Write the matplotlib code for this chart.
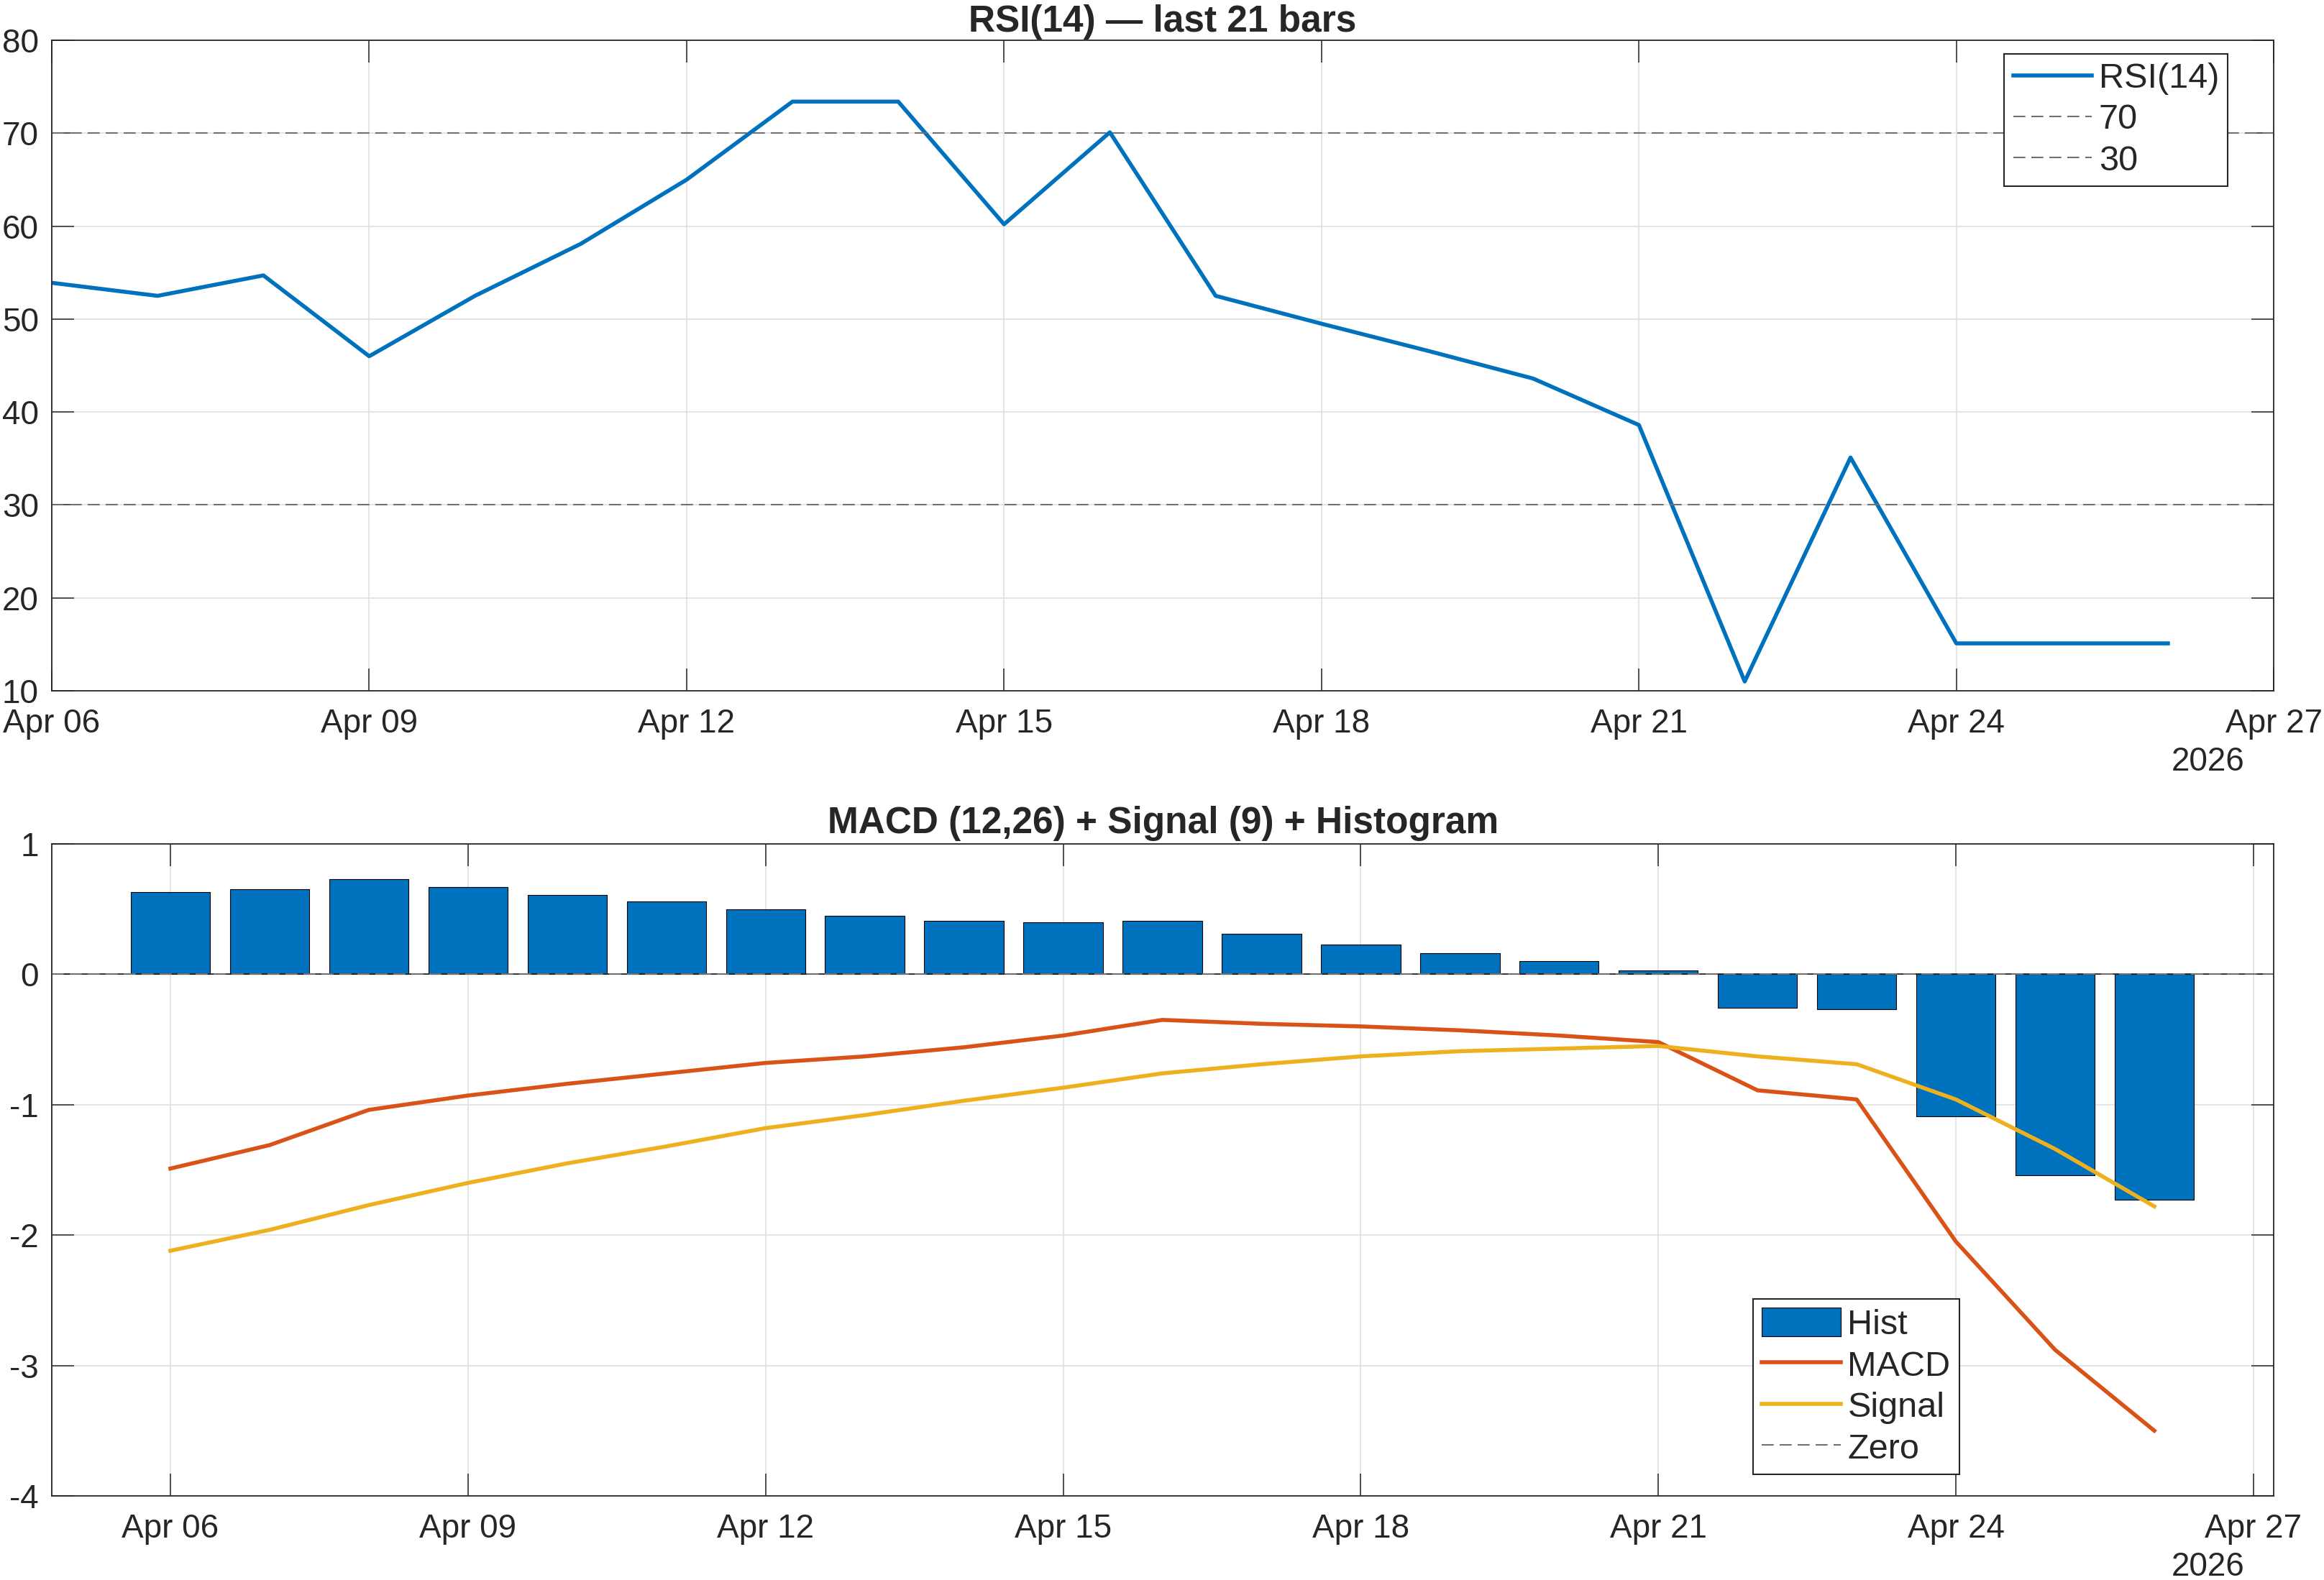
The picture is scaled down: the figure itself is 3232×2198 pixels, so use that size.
import numpy as np
import pandas as pd
import matplotlib
matplotlib.use("Agg")
import matplotlib.pyplot as plt
import matplotlib.dates as mdates

plt.rcParams['font.family'] = ['Liberation Sans', 'DejaVu Sans']
plt.rcParams['axes.unicode_minus'] = False
plt.rcParams['lines.scale_dashes'] = False

# data (21 daily bars)
dates = pd.date_range('2026-04-06', periods=21, freq='D')
rsi = [53.9, 52.5, 54.7, 46.0, 52.5, 58.1, 65.0, 73.4, 73.4, 60.2, 70.1,
       52.5, 49.5, 46.6, 43.6, 38.6, 11.0, 35.1, 15.1, 15.1, 15.1]
hist = [0.63, 0.65, 0.73, 0.67, 0.61, 0.56, 0.50, 0.45, 0.41, 0.40, 0.41,
        0.31, 0.23, 0.16, 0.10, 0.03, -0.26, -0.27, -1.09, -1.54, -1.73]
macd = [-1.49, -1.31, -1.04, -0.93, -0.84, -0.76, -0.68, -0.63, -0.56, -0.47, -0.35,
        -0.38, -0.40, -0.43, -0.47, -0.52, -0.89, -0.96, -2.05, -2.88, -3.50]
signal = [-2.12, -1.96, -1.77, -1.60, -1.45, -1.32, -1.18, -1.08, -0.97, -0.87, -0.76,
          -0.69, -0.63, -0.59, -0.57, -0.55, -0.63, -0.69, -0.96, -1.34, -1.78]
rsi_levels = [70, 30]

BLUE = '#0072BD'
ORANGE = '#D95319'
YELLOW = '#EDB120'
DARK = '#262626'
GRAY = '#707070'
GRID = '#dedede'
DASH = (0, (12, 6))


def style_axes(ax):
    ax.grid(True, color=GRID, linewidth=1.1)
    ax.set_axisbelow(True)
    for s in ax.spines.values():
        s.set_color(DARK)
        s.set_linewidth(1.3)
    ax.tick_params(direction='in', length=22, width=1.1, color=DARK,
                   labelsize=33, labelcolor=DARK, top=True, right=True)
    ax.tick_params(axis='x', pad=17)
    ax.tick_params(axis='y', pad=13)
    ax.xaxis.set_major_locator(mdates.DayLocator(bymonthday=[3, 6, 9, 12, 15, 18, 21, 24, 27, 30]))
    ax.xaxis.set_major_formatter(mdates.DateFormatter('%b %d'))
    ax.annotate('2026', xy=(0.9867, 0), xycoords='axes fraction', xytext=(0, -99),
                textcoords='offset pixels', ha='right', va='center', fontsize=33, color=DARK)


def style_legend(leg):
    leg.get_frame().set_linewidth(1.5)
    for t in leg.get_texts():
        t.set_color(DARK)


fig = plt.figure(figsize=(32.32, 21.98), dpi=100)

# RSI panel
ax1 = fig.add_axes([0.02228, 0.5628, 0.9561, 0.4117])
ax1.plot(dates, rsi, color=BLUE, linewidth=4, label='RSI(14)')
for lv in rsi_levels:
    ax1.axhline(lv, color=GRAY, linewidth=1.5, linestyle=DASH, label=str(lv))
ax1.set_xlim(pd.Timestamp('2026-04-06'), pd.Timestamp('2026-04-27'))
ax1.set_ylim(10, 80)
ax1.set_yticks(np.arange(10, 81, 10))
style_axes(ax1)
ax1.set_title('RSI(14) \u2014 last 21 bars', fontsize=37, fontweight='bold', color=DARK, pad=9)
leg1 = ax1.legend(loc='upper right', bbox_to_anchor=(0.9793, 0.979), borderaxespad=0,
                  fontsize=35, frameon=True, fancybox=False, framealpha=1,
                  edgecolor=DARK, handlelength=2.25, handletextpad=0.2,
                  borderpad=0.25, labelspacing=0.25)
style_legend(leg1)

# MACD panel
ax2 = fig.add_axes([0.02228, 0.05323, 0.9561, 0.4127])
bars = ax2.bar(dates, hist, width=0.8, color=BLUE, edgecolor='black', linewidth=0.8, label='Hist')
ax2.axhline(0, color=DARK, linewidth=1.3, zorder=1.5)
l_macd, = ax2.plot(dates, macd, color=ORANGE, linewidth=4, label='MACD')
l_sig, = ax2.plot(dates, signal, color=YELLOW, linewidth=4, label='Signal')
l_zero = ax2.axhline(0, color=GRAY, linewidth=1.5, linestyle=DASH, label='Zero')
ax2.set_xlim(pd.Timestamp('2026-04-06') - pd.Timedelta(hours=28.7),
             pd.Timestamp('2026-04-27') + pd.Timedelta(hours=4.9))
ax2.set_ylim(-4, 1)
ax2.set_yticks(np.arange(-4, 2, 1))
style_axes(ax2)
ax2.set_title('MACD (12,26) + Signal (9) + Histogram', fontsize=37, fontweight='bold',
              color=DARK, pad=11)
leg2 = ax2.legend([bars, l_macd, l_sig, l_zero], ['Hist', 'MACD', 'Signal', 'Zero'],
                  loc='lower left', bbox_to_anchor=(0.7657, 0.033), borderaxespad=0,
                  fontsize=35, frameon=True, fancybox=False, framealpha=1,
                  edgecolor=DARK, handlelength=2.25, handletextpad=0.2,
                  handleheight=0.9, borderpad=0.25, labelspacing=0.22)
style_legend(leg2)

fig.savefig('out.png', dpi=100, facecolor='white')
